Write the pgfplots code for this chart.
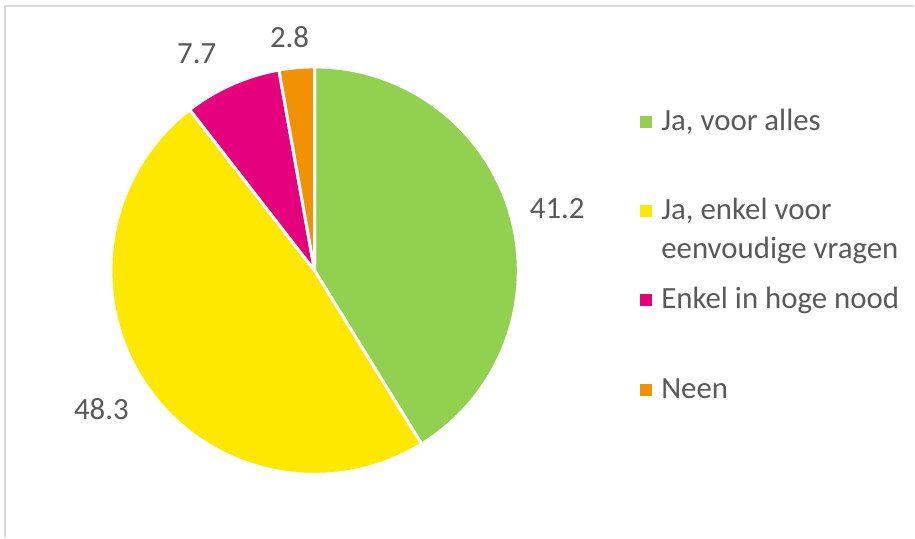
\documentclass[border=0pt]{standalone}
\usepackage{pgfplots}
\pgfplotsset{compat=1.18}
\usepackage{fontspec}
\setmainfont{Carlito}
\definecolor{cgreen}{HTML}{92D050}
\definecolor{cyellow}{HTML}{FFE800}
\definecolor{cmagenta}{HTML}{E5007E}
\definecolor{corange}{HTML}{F39200}
\definecolor{txt}{HTML}{595959}
\definecolor{framec}{HTML}{D9D9D9}
% values (percent)
\def\vA{41.2}\def\vB{48.3}\def\vC{7.7}\def\vD{2.8}
\pgfmathsetmacro\aA{90-3.6*\vA}
\pgfmathsetmacro\aB{\aA-3.6*\vB}
\pgfmathsetmacro\aC{\aB-3.6*\vC}
\pgfmathsetmacro\aD{\aC-3.6*\vD}
\begin{document}
\begin{tikzpicture}
\begin{axis}[
  width=915bp, height=538bp, scale only axis,
  xmin=0, xmax=915, ymin=0, ymax=538,
  hide axis, clip=false,
  legend cell align=left,
  legend style={at={(641/915,428/538)}, anchor=north west, draw=none, fill=none,
    inner sep=0pt, column sep=9bp, row sep=0pt,
    font=\fontsize{31}{39}\selectfont, text=txt,
    nodes={inner sep=0pt, text height=20bp, text depth=69.5bp, anchor=base west}},
  legend image code/.code={\fill[#1, draw=none] (0bp,2.5bp) rectangle (12bp,14.5bp);},
]
\path (axis cs:0,0) rectangle (axis cs:915,538);
\draw[framec, line width=2.5bp] (axis cs:5,0) -- (axis cs:5,532) -- (axis cs:915,532);

\addplot[fill=cgreen, draw=white, line width=3bp, domain=\aA:90, samples=120, variable=\t]
  ({315+204*cos(\t)}, {267+204*sin(\t)}) -- (axis cs:315,267) -- cycle;
\addlegendentry{Ja, voor alles}
\addplot[fill=cyellow, draw=white, line width=3bp, domain=\aB:\aA, samples=120, variable=\t]
  ({315+204*cos(\t)}, {267+204*sin(\t)}) -- (axis cs:315,267) -- cycle;
\addlegendentry{\vtop{\hbox{Ja, enkel voor}\hbox{eenvoudige vragen}}}
\addplot[fill=cmagenta, draw=white, line width=3bp, domain=\aC:\aB, samples=40, variable=\t]
  ({315+204*cos(\t)}, {267+204*sin(\t)}) -- (axis cs:315,267) -- cycle;
\addlegendentry{Enkel in hoge nood}
\addplot[fill=corange, draw=white, line width=3bp, domain=\aD:\aC, samples=20, variable=\t]
  ({315+204*cos(\t)}, {267+204*sin(\t)}) -- (axis cs:315,267) -- cycle;
\addlegendentry{Neen}

\begin{scope}[every node/.style={anchor=base, text=txt, font=\fontsize{31}{36}\selectfont, inner sep=0pt}]
\node at (axis cs:558,319) {41.2};
\node at (axis cs:101.5,117.5) {48.3};
\node at (axis cs:197,474) {7.7};
\node at (axis cs:290,490) {2.8};
\end{scope}
\end{axis}
\end{tikzpicture}
\end{document}
